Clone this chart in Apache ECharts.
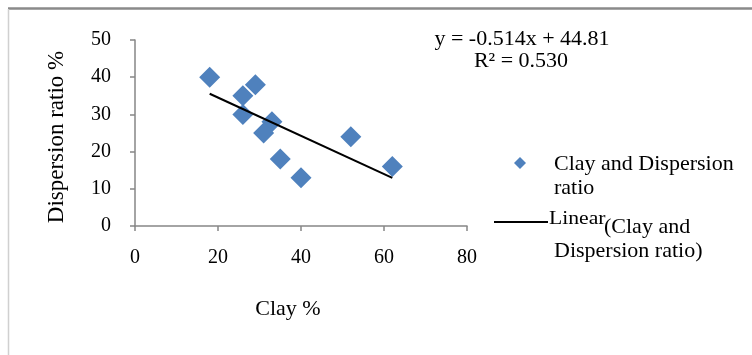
<!DOCTYPE html>
<html>
<head>
<meta charset="utf-8">
<script src="https://cdn.jsdelivr.net/npm/echarts@6/dist/echarts.min.js"></script>
<style>
  html, body { margin: 0; padding: 0; background: #fff; }
  #chart { width: 752px; height: 355px; }
</style>
</head>
<body>
<div id="chart"></div>
<script>
// Clay content (%) and dispersion ratio (%) of the soil samples
const clay = [18, 26, 29, 26, 33, 31, 35, 40, 52, 62];
const dispersion = [40, 35, 38, 30, 28, 25, 18, 13, 24, 16];

// Least-squares fit as printed on the chart
const fitSlope = -0.514;
const fitIntercept = 44.81;
const fitRange = [18, 62];

const xTicks = [0, 20, 40, 60, 80];
const yTicks = [0, 10, 20, 30, 40, 50];

const points = clay.map((c, i) => [c, dispersion[i]]);
const fitLine = fitRange.map(x => [x, fitSlope * x + fitIntercept]);

const serif = '"Liberation Serif", "Times New Roman", serif';
const axisGray = '#868686';
const blue = '#4F81BD';

function label(text, x, y, size, align, extra) {
  return Object.assign({
    type: 'text', x: x, y: y,
    style: { text: text, font: size + 'px ' + serif, fill: '#000', align: align, verticalAlign: 'middle' }
  }, extra || {});
}

const chart = echarts.init(document.getElementById('chart'), null, { renderer: 'canvas' });
chart.setOption({
  animation: false,
  backgroundColor: '#fff',
  textStyle: { fontFamily: serif, color: '#000' },
  grid: { left: 135, right: 285, top: 40, bottom: 129, containLabel: false },
  xAxis: {
    type: 'value',
    min: xTicks[0], max: xTicks[xTicks.length - 1], interval: 20,
    axisLine: { show: true, lineStyle: { color: axisGray, width: 1.5 } },
    axisTick: { show: true, length: 5, lineStyle: { color: axisGray, width: 1.5 } },
    axisLabel: { margin: 22, fontFamily: serif, fontSize: 20, color: '#000' },
    splitLine: { show: false }
  },
  yAxis: {
    type: 'value',
    min: yTicks[0], max: yTicks[yTicks.length - 1], interval: 10,
    axisLine: { show: true, lineStyle: { color: axisGray, width: 1.5 } },
    axisTick: { show: true, length: 5, lineStyle: { color: axisGray, width: 1.5 } },
    axisLabel: { margin: 24, fontFamily: serif, fontSize: 20, color: '#000' },
    splitLine: { show: false }
  },
  series: [
    {
      name: 'Clay and Dispersion ratio',
      type: 'scatter',
      symbol: 'diamond',
      symbolSize: 21,
      itemStyle: { color: blue, opacity: 1 },
      data: points,
      z: 2
    },
    {
      name: 'Linear (Clay and Dispersion ratio)',
      type: 'line',
      symbol: 'none',
      lineStyle: { color: '#000', width: 2 },
      data: fitLine,
      z: 3
    }
  ],
  graphic: [
    // outer frame edges
    { type: 'line', shape: { x1: 8, y1: 8.5, x2: 752, y2: 8.5 }, style: { stroke: '#8a8a8a', lineWidth: 2.5 } },
    { type: 'line', shape: { x1: 8.5, y1: 9, x2: 8.5, y2: 355 }, style: { stroke: '#d0d0d0', lineWidth: 1.5 } },
    // axis titles
    label('Clay %', 288, 309, 22, 'center'),
    label('Dispersion ratio %', 57, 137, 23, 'center', { rotation: Math.PI / 2 }),
    // fit equation
    label('y = -0.514x + 44.81', 522, 39, 22, 'center'),
    label('R² = 0.530', 521, 61, 22, 'center'),
    // legend
    { type: 'polygon', shape: { points: [[520, 157], [526, 163], [520, 169], [514, 163]] }, style: { fill: blue } },
    label('Clay and Dispersion', 554, 164, 22, 'left'),
    label('ratio', 554, 188, 22, 'left'),
    { type: 'line', shape: { x1: 494, y1: 222, x2: 548, y2: 222 }, style: { stroke: '#000', lineWidth: 2 } },
    label('Linear', 549, 219, 19, 'left', { scaleX: 1.14 }),
    label('(Clay and', 604, 227, 22, 'left'),
    label('Dispersion ratio)', 554, 251, 22, 'left')
  ]
});
</script>
</body>
</html>
